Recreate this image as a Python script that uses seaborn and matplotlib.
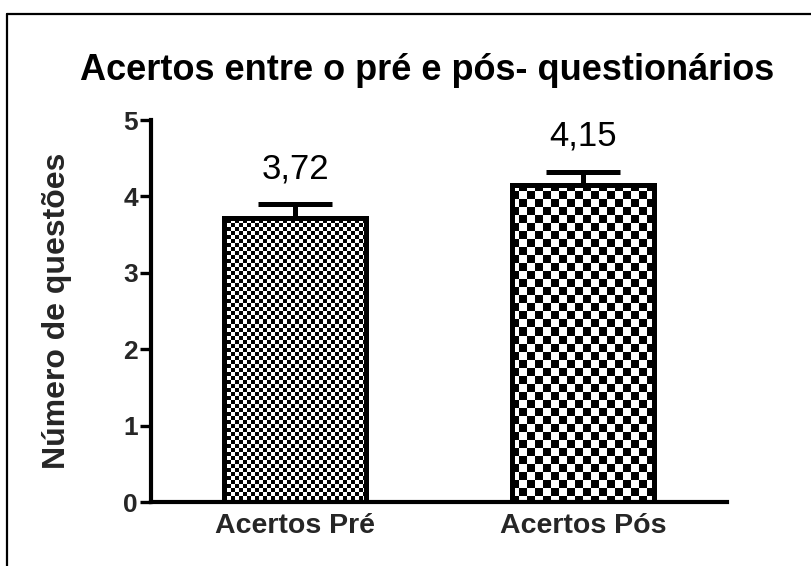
import numpy as np
import pandas as pd
import matplotlib
matplotlib.use("Agg")
import matplotlib.pyplot as plt
from matplotlib.lines import Line2D
import seaborn as sns

# Data
categories = ["Acertos Pré", "Acertos Pós"]
means = [3.72, 4.15]
errors = [0.18, 0.17]
value_labels = ["3,72", "4,15"]
checker_cells = [4, 8]          # checkerboard cell size (px) for each bar
y_ticks = [0, 1, 2, 3, 4, 5]

sns.set_style("ticks")
plt.rcParams["font.family"] = ["Liberation Sans", "DejaVu Sans"]

W, H, DPI = 811, 566, 100
fig = plt.figure(figsize=(W / DPI, H / DPI), dpi=DPI)
fig.patch.set_facecolor("white")

ax_l, ax_r, ax_b, ax_t = 151, 727, 502, 120
ax = fig.add_axes([ax_l / W, 1 - ax_b / H, (ax_r - ax_l) / W, (ax_b - ax_t) / H])

df = pd.DataFrame({"grupo": categories, "media": means})
sns.barplot(data=df, x="grupo", y="media", order=categories, width=0.49,
            color="white", edgecolor="black", linewidth=3.6, ax=ax,
            errorbar=None, zorder=2)

ax.set_xlim(-0.5, 1.5)
ax.set_ylim(0, 5)

# checkerboard fills clipped to each bar
pw, ph = ax_r - ax_l, ax_b - ax_t
yy, xx = np.indices((ph, pw))
for patch, cell in zip(ax.patches, checker_cells):
    board = ((yy // cell + xx // cell) % 2).astype(float)
    im = ax.imshow(board, cmap="gray", vmin=0, vmax=1, origin="upper",
                   extent=(-0.5, 1.5, 0, 5), aspect="auto",
                   interpolation="none", zorder=1)
    im.set_clip_path(patch)
    patch.set_facecolor("none")

# upper error bars
ax.errorbar(x=np.arange(len(categories)), y=means,
            yerr=[np.zeros(len(errors)), errors], fmt="none",
            ecolor="black", elinewidth=3.6, capsize=26.6, capthick=3.6,
            zorder=1.5)

# value labels above error bars
for i, (m, e, lab) in enumerate(zip(means, errors, value_labels)):
    ax.text(i, m + e + 0.34, lab, ha="center", va="baseline",
            fontsize=25, color="black")

ax.set_yticks(y_ticks)
ax.set_yticklabels([str(t) for t in y_ticks], fontsize=19, fontweight="bold")
ax.tick_params(axis="y", length=8, width=2.4, pad=1.5, color="black")
ax.tick_params(axis="x", length=0, pad=8, labelsize=20.5)
for t in ax.get_xticklabels():
    t.set_fontweight("bold")

ax.set_xlabel("")
ax.set_ylabel("Número de questões", fontsize=23, fontweight="bold")
ax.yaxis.set_label_coords(-0.138, 0.5)

sns.despine(ax=ax)
for s in ("left", "bottom"):
    ax.spines[s].set_linewidth(3)
    ax.spines[s].set_color("black")

fig.text(427 / W, 1 - 80 / H, "Acertos entre o pré e pós- questionários",
         ha="center", va="baseline", fontsize=26, fontweight="bold",
         color="black")

# outer frame (left and top edges)
fig.add_artist(Line2D([7 / W, 7 / W], [0, 1 - 14 / H],
                      transform=fig.transFigure, color="black", lw=1.6))
fig.add_artist(Line2D([7 / W, 1], [1 - 14 / H, 1 - 14 / H],
                      transform=fig.transFigure, color="black", lw=1.6))

fig.savefig("out.png", dpi=DPI, facecolor="white")
